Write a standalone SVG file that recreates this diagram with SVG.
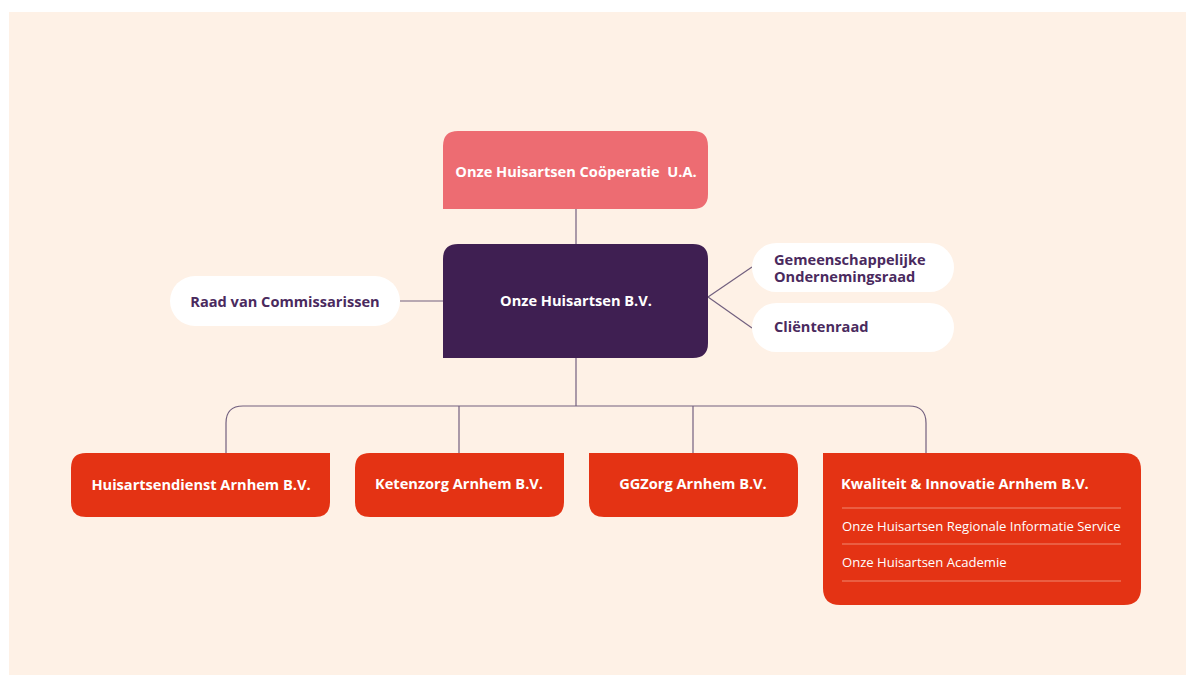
<svg xmlns="http://www.w3.org/2000/svg" width="1186" height="675" viewBox="0 0 1186 675">
<style>
.t{font-family:"Open Sans","Liberation Sans",sans-serif;font-weight:700;font-size:14.6px;fill:#ffffff}
.p{font-family:"Open Sans","Liberation Sans",sans-serif;font-weight:700;font-size:14.6px;fill:#4a2a5e}
.s{font-family:"Open Sans","Liberation Sans",sans-serif;font-weight:400;font-size:13.1px;fill:#ffffff}
.c{fill:none;stroke:#72607f;stroke-width:1.2}
.sep{stroke:#f08a70;stroke-width:1}
</style>
<rect x="0" y="0" width="1186" height="675" fill="#ffffff"/>
<rect x="9" y="12" width="1177" height="663" fill="#fef1e6"/>
<g id="connectors">
<line class="c" x1="576" y1="209" x2="576" y2="244"/>
<line class="c" x1="400" y1="301" x2="443" y2="301"/>
<line class="c" x1="708" y1="297" x2="752" y2="267"/>
<line class="c" x1="708" y1="297" x2="752" y2="328"/>
<line class="c" x1="576" y1="358" x2="576" y2="406"/>
<path class="c" d="M226 453 V423 Q226 406 243 406 H909 Q926 406 926 423 V453"/>
<line class="c" x1="459" y1="406" x2="459" y2="453"/>
<line class="c" x1="693" y1="406" x2="693" y2="453"/>
</g>
<g id="cooperatie">
<path d="M443 209 V146 Q443 131 458 131 H693 Q708 131 708 146 V194 Q708 209 693 209 Z" fill="#ed6c72"/>
<text class="t" x="576" y="177" text-anchor="middle" xml:space="preserve">Onze Huisartsen Coöperatie  U.A.</text>
</g>
<g id="bv">
<path d="M443 358 V259 Q443 244 458 244 H693 Q708 244 708 259 V343 Q708 358 693 358 Z" fill="#3f1f52"/>
<text class="t" x="576" y="306" text-anchor="middle">Onze Huisartsen B.V.</text>
</g>
<g id="raad">
<rect x="170" y="276" width="230" height="50" rx="25" fill="#ffffff"/>
<text class="p" x="285" y="307" text-anchor="middle">Raad van Commissarissen</text>
</g>
<g id="gor">
<rect x="752" y="243" width="202" height="49" rx="24.5" fill="#ffffff"/>
<text class="p"><tspan x="774" y="264.5">Gemeenschappelijke</tspan><tspan x="774" y="281.5">Ondernemingsraad</tspan></text>
</g>
<g id="clientenraad">
<rect x="752" y="303" width="202" height="49" rx="24.5" fill="#ffffff"/>
<text class="p" x="774" y="332">Cliëntenraad</text>
</g>
<g id="huisartsendienst">
<path d="M86 453 H330 V502 Q330 517 315 517 H86 Q71 517 71 502 V468 Q71 453 86 453 Z" fill="#e43314"/>
<text class="t" x="201" y="490" text-anchor="middle">Huisartsendienst Arnhem B.V.</text>
</g>
<g id="ketenzorg">
<path d="M370 453 H564 V502 Q564 517 549 517 H370 Q355 517 355 502 V468 Q355 453 370 453 Z" fill="#e43314"/>
<text class="t" x="459" y="489" text-anchor="middle">Ketenzorg Arnhem B.V.</text>
</g>
<g id="ggzorg">
<path d="M589 453 H783 Q798 453 798 468 V502 Q798 517 783 517 H604 Q589 517 589 502 Z" fill="#e43314"/>
<text class="t" x="693" y="489" text-anchor="middle">GGZorg Arnhem B.V.</text>
</g>
<g id="kwaliteit">
<path d="M823 453 H1124 Q1141 453 1141 470 V588 Q1141 605 1124 605 H840 Q823 605 823 588 Z" fill="#e43314"/>
<text class="t" x="841" y="489">Kwaliteit &amp; Innovatie Arnhem B.V.</text>
<line class="sep" x1="842" y1="508" x2="1121" y2="508"/>
<text class="s" x="842" y="531">Onze Huisartsen Regionale Informatie Service</text>
<line class="sep" x1="842" y1="544" x2="1121" y2="544"/>
<text class="s" x="842" y="567">Onze Huisartsen Academie</text>
<line class="sep" x1="842" y1="581" x2="1121" y2="581"/>
</g>
</svg>
